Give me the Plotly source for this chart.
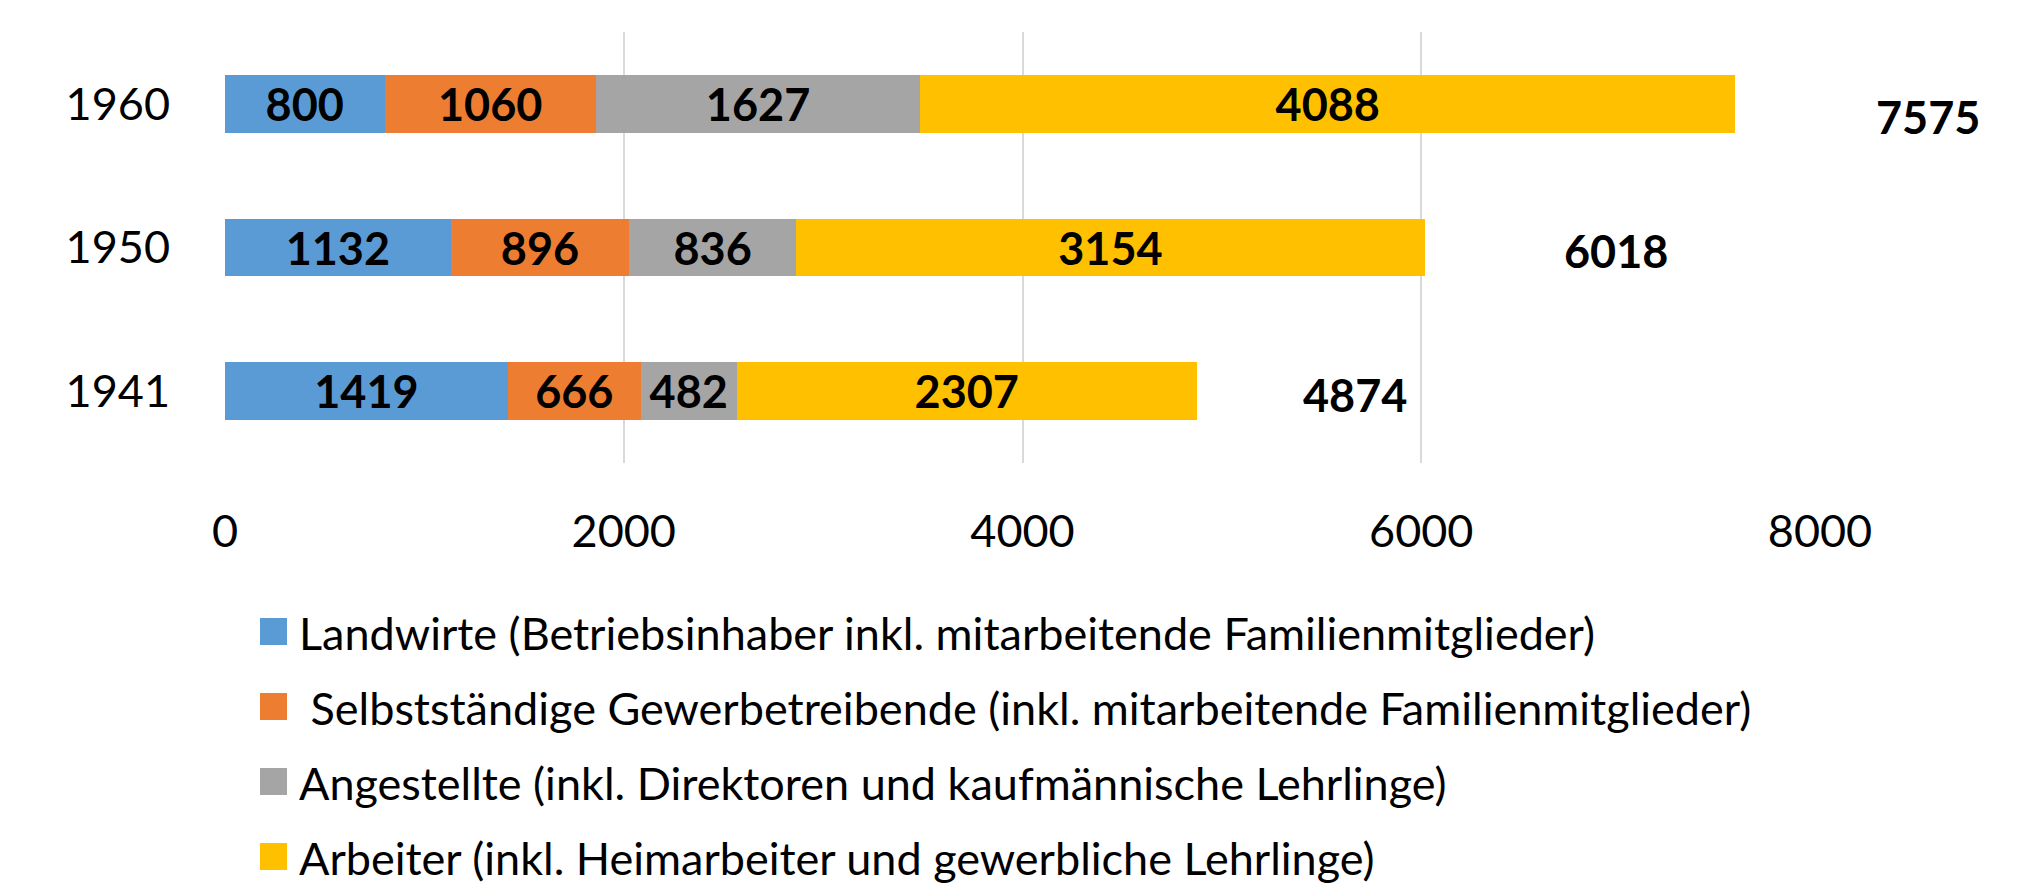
import plotly.graph_objects as go

years = ["1941", "1950", "1960"]
landwirte = [1419, 1132, 800]
selbststaendige = [666, 896, 1060]
angestellte = [482, 836, 1627]
arbeiter = [2307, 3154, 4088]
totals = [4874, 6018, 7575]
x_ticks = [0, 2000, 4000, 6000, 8000]

series_names = [
    "Landwirte (Betriebsinhaber inkl. mitarbeitende Familienmitglieder)",
    " Selbstständige Gewerbetreibende (inkl. mitarbeitende Familienmitglieder)",
    "Angestellte (inkl. Direktoren und kaufmännische Lehrlinge)",
    "Arbeiter (inkl. Heimarbeiter und gewerbliche Lehrlinge)",
]
series_values = [landwirte, selbststaendige, angestellte, arbeiter]
colors = ["#5B9BD5", "#ED7D31", "#A5A5A5", "#FFC000"]

FONT = "Lato"
OFF = 8  # default body margin of the html page
W, H = 2024 - OFF, 892 - OFF
ML = 225 - OFF
PLOT_RIGHT = 1820 - OFF
PLOT_TOP = 32 - OFF
PLOT_BOTTOM = 463 - OFF
MR = W - PLOT_RIGHT
MT = PLOT_TOP
MB = H - PLOT_BOTTOM
PW, PH = PLOT_RIGHT - ML, PLOT_BOTTOM - PLOT_TOP

fig = go.Figure()
for name, vals, col in zip(series_names, series_values, colors):
    fig.add_trace(go.Bar(
        y=years, x=vals, orientation="h", name=name,
        marker=dict(color=col, line=dict(width=0)),
        text=[str(v) for v in vals], textposition="inside",
        insidetextanchor="middle", constraintext="none",
        textfont=dict(family=FONT, size=45, color="black", weight="bold"),
        showlegend=False, hoverinfo="x+y",
    ))

# total labels
total_shift_x = [104, 137, 139]
total_shift_y = [-4, -3, -13]
for i, (t, sx, sy) in enumerate(zip(totals, total_shift_x, total_shift_y)):
    fig.add_annotation(x=t, y=i, xref="x", yref="y", text=str(t), showarrow=False,
                       xanchor="left", yanchor="middle", xshift=sx, yshift=sy,
                       font=dict(family=FONT, size=45, color="black", weight="bold"))

# manual legend (page pixel geometry -> paper coords)
def px_x(p):
    return (p - OFF - ML) / PW

def px_y(p):
    return (PLOT_BOTTOM - (p - OFF)) / PH

row_centers = [631.5, 706.5, 781.5, 856.5]
for name, col, cy in zip(series_names, colors, row_centers):
    fig.add_shape(type="rect", xref="paper", yref="paper",
                  x0=px_x(260), x1=px_x(287), y0=px_y(cy + 13.5), y1=px_y(cy - 13.5),
                  fillcolor=col, line=dict(width=0))
    label = name.replace(" ", "\u00a0", 1) if name.startswith(" ") else name
    fig.add_annotation(xref="paper", yref="paper", x=px_x(297), y=px_y(cy),
                       text=label, showarrow=False, xanchor="left", yanchor="middle",
                       yshift=-1,
                       font=dict(family=FONT, size=45, color="black"))

fig.update_layout(
    width=W, height=H,
    margin=dict(l=ML, r=MR, t=MT, b=MB, pad=0),
    paper_bgcolor="white", plot_bgcolor="white",
    barmode="stack", bargap=0.6,
    font=dict(family=FONT, color="black"),
    xaxis=dict(range=[0, 8000], tickvals=x_ticks, ticktext=[str(v) for v in x_ticks],
               showgrid=True, gridcolor="#D9D9D9", gridwidth=1.5,
               zeroline=False, showline=False, ticks="",
               tickfont=dict(family=FONT, size=45, color="black"),
               ticklabelstandoff=38, fixedrange=True),
    yaxis=dict(type="category", categoryorder="array", categoryarray=years,
               range=[-0.5, 2.5], showgrid=False, zeroline=False, showline=False,
               ticks="", tickfont=dict(family=FONT, size=45, color="black"),
               ticklabelstandoff=54, fixedrange=True),
)

fig.write_html("out.html")
